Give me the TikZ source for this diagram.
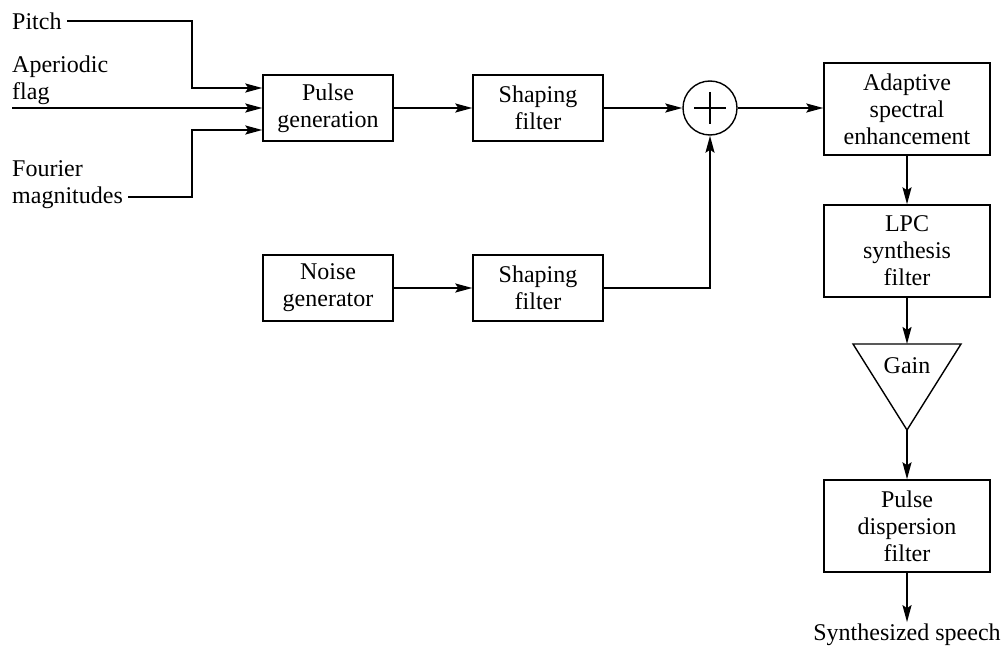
\documentclass[tikz,border=0pt]{standalone}
\usepackage{fontspec}
\setmainfont{Liberation Serif}
\usetikzlibrary{arrows.meta,calc}
\begin{document}
\begin{tikzpicture}[x=1pt,y=-1pt,
 txt/.style={font=\fontsize{24}{27}\selectfont},
 blk/.style={txt,draw,line width=1.4pt,minimum width=130pt,minimum height=66pt,align=center,inner sep=0pt},
 bigblk/.style={blk,minimum width=166pt,minimum height=92pt},
 lbl/.style={txt,align=left,inner sep=0pt,anchor=west},
 wire/.style={line width=2pt},
 conn/.style={wire,-{Stealth[length=17pt,width=9pt,inset=3pt]}}]
\useasboundingbox (0,0) rectangle (1008,647);
% blocks
\node[blk] (pg) at (328,108) {Pulse\\generation};
\node[blk] (sf1) at (538,108) {Shaping\\filter};
\node[blk] (ng) at (328,288) {Noise\\generator};
\node[blk] (sf2) at (538,288) {Shaping\\filter};
\node[draw,circle,line width=1.4pt,minimum size=54pt,inner sep=0pt] (sum) at (710,108) {};
\draw[line width=1.4pt] ($(sum)+(-16,0)$) -- ($(sum)+(16,0)$) ($(sum)+(0,-16)$) -- ($(sum)+(0,16)$);
\node[bigblk] (ase) at (907,109) {Adaptive\\spectral\\enhancement};
\node[bigblk] (lpc) at (907,251) {LPC\\synthesis\\filter};
\coordinate (gl) at (853,344);
\coordinate (gr) at (961,344);
\coordinate (gtop) at (907,344);
\coordinate (gapex) at (907,430);
\draw[line width=1.4pt] (gl) -- (gr) -- (gapex) -- cycle;
\node[txt] (gain) at (907,366) {Gain};
\node[bigblk] (pdf) at (907,526) {Pulse\\dispersion\\filter};
\node[txt,anchor=base,inner sep=1pt] (out) at (907,640) {Synthesized speech};
% input labels
\node[lbl] (pitch) at (12,21) {Pitch};
\node[lbl] (aper) at (12,80) {Aperiodic\\flag};
\node[lbl] (four) at (12,185) {Fourier\\magnitudes};
\coordinate (pstart) at (67,21);
\coordinate (astart) at (12,108);
\coordinate (fstart) at (128,197);
\coordinate (pin) at ($(pg.west)+(0,-20)$);
\coordinate (fin) at ($(pg.west)+(0,22)$);
% connectors
\draw[conn] (pstart) -| ($(pin)+(-70,0)$) -- (pin);
\draw[conn] (astart) -- (pg.west);
\draw[conn] (fstart) -| ($(fin)+(-70,0)$) -- (fin);
\draw[conn] (pg) -- (sf1);
\draw[conn] (sf1) -- (sum);
\draw[conn] (sum) -- (ase.west |- sum);
\draw[conn] (ng) -- (sf2);
\draw[conn] (sf2.east) -| (sum.south);
\draw[conn] (ase) -- (lpc);
\draw[conn] (lpc.south) -- (gtop);
\draw[conn] (gapex) -- (pdf.north);
\draw[conn] (pdf.south) -- (out.north);
\end{tikzpicture}
\end{document}
